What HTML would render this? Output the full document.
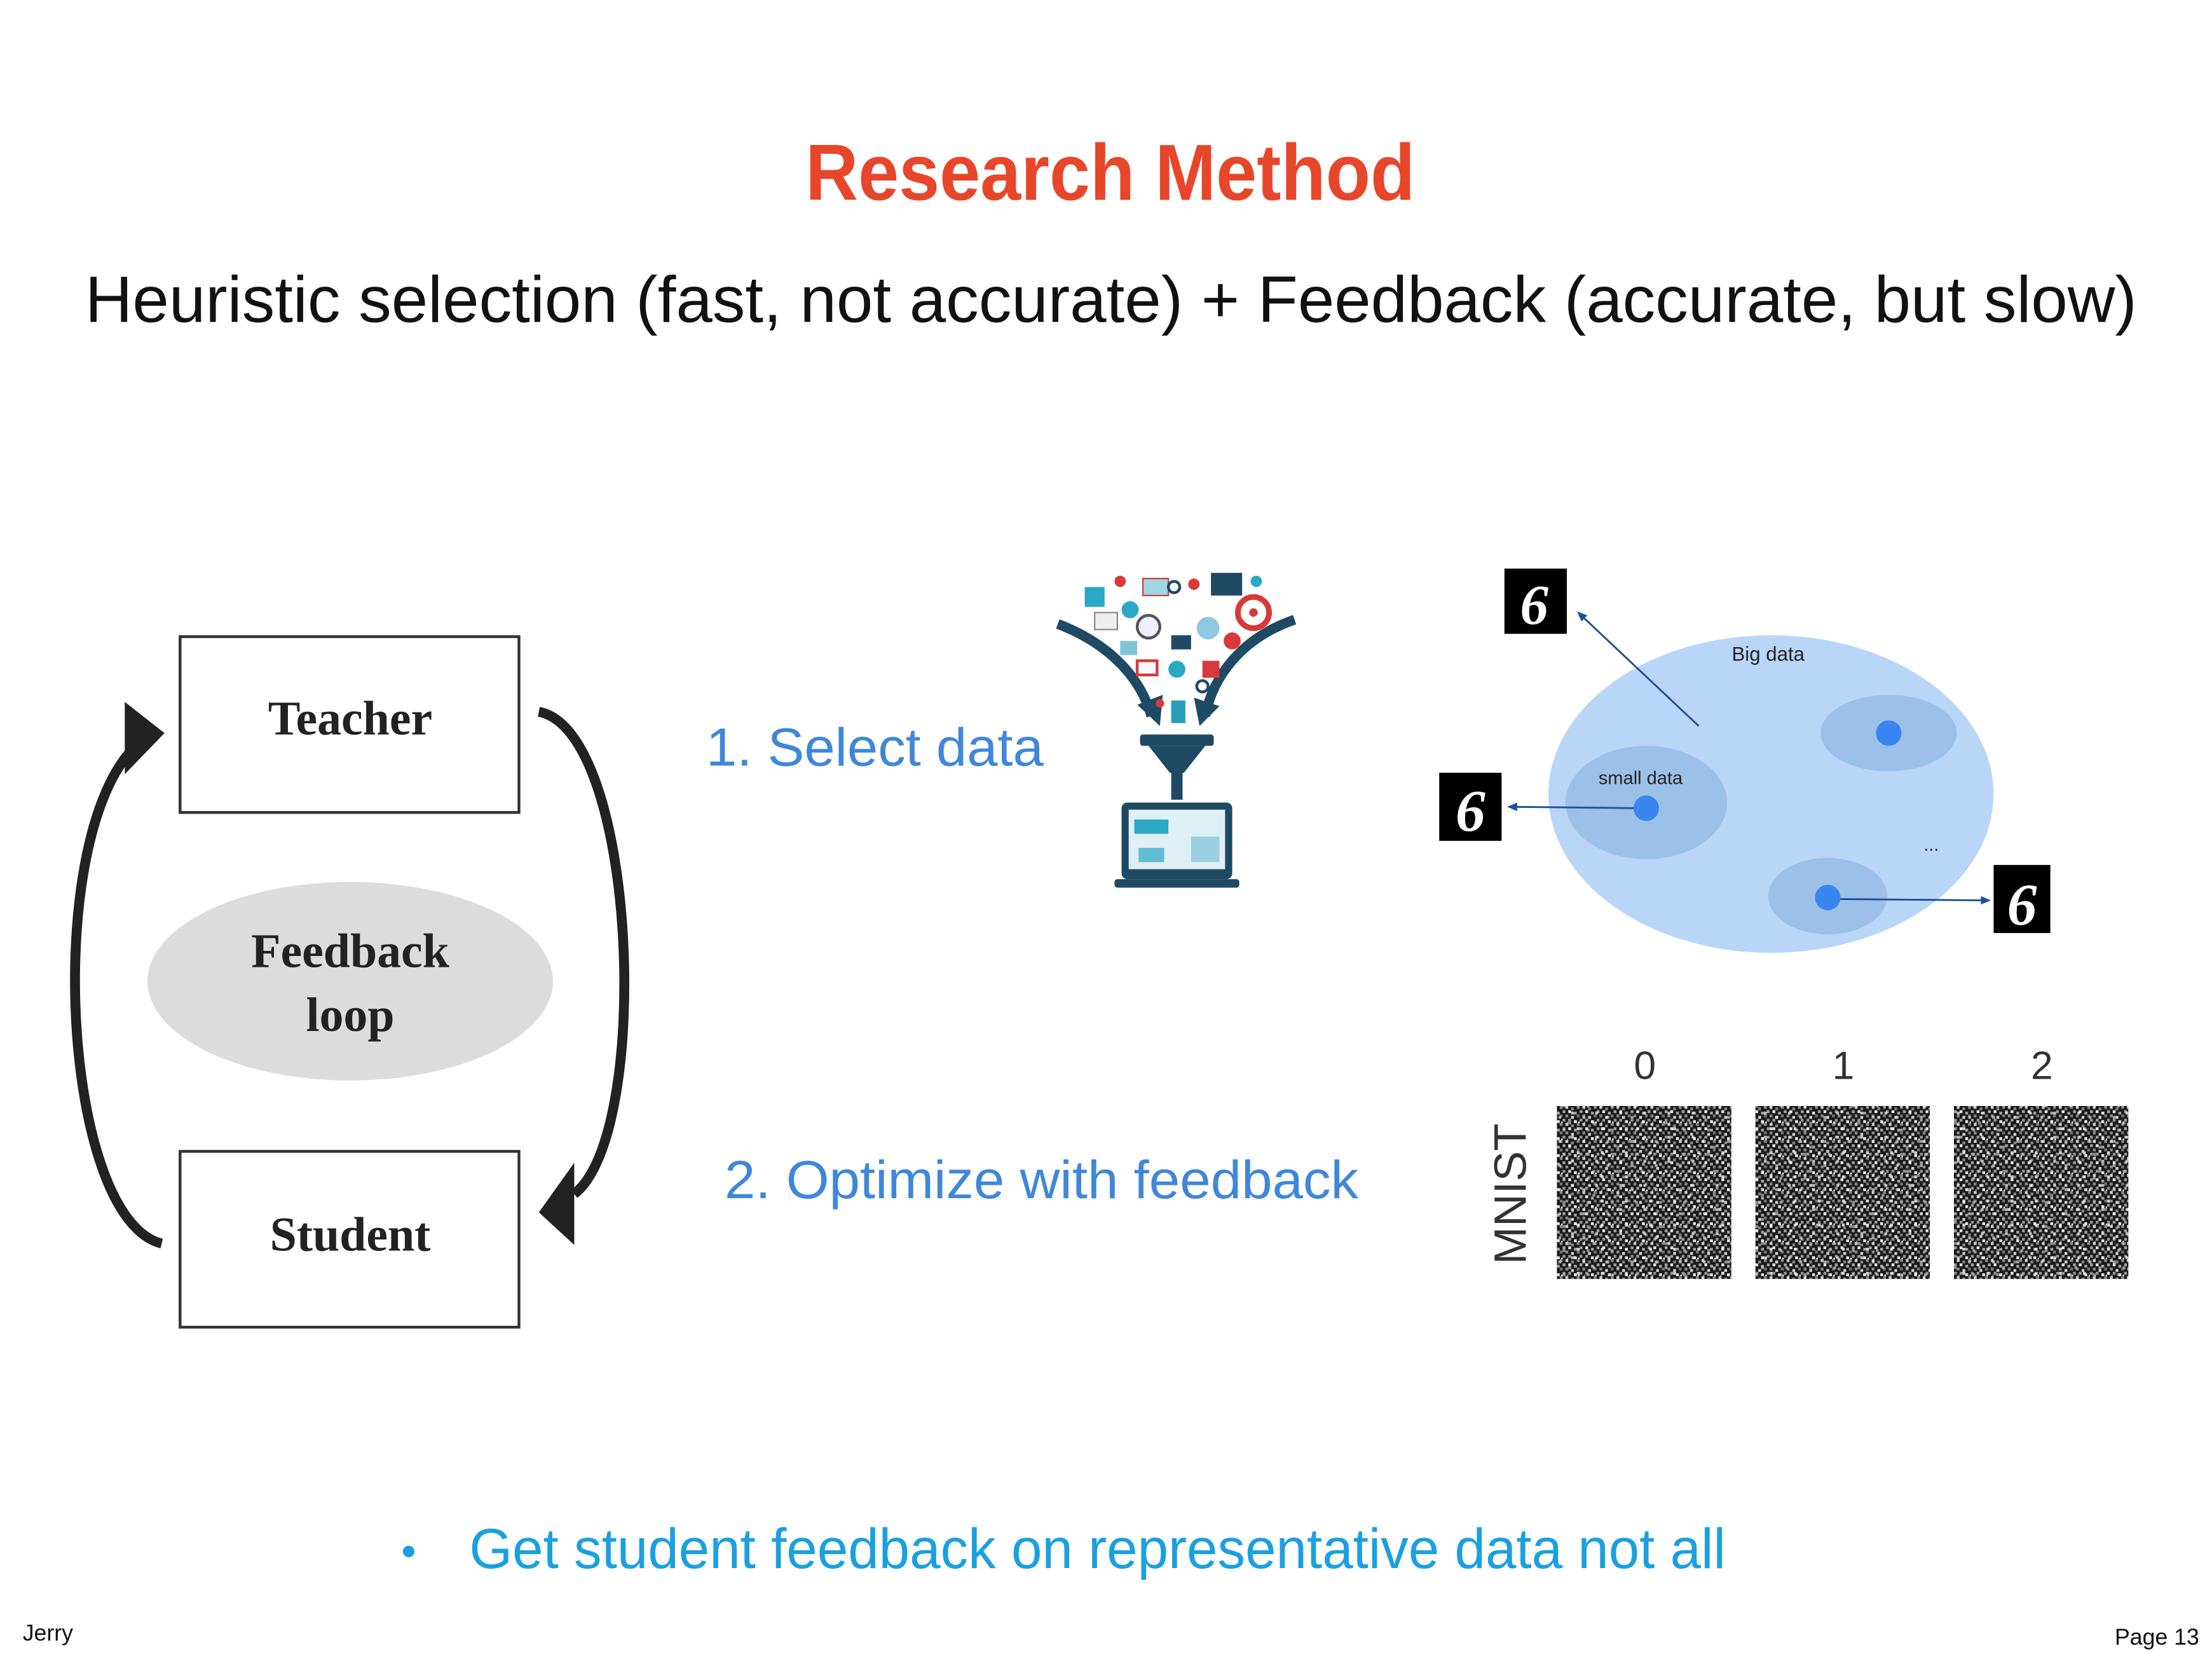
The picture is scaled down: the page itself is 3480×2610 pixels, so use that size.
<!DOCTYPE html>
<html><head><meta charset="utf-8"><style>html,body{margin:0;padding:0;background:#fff}svg{display:block}</style></head>
<body>
<svg width="3480" height="2610" viewBox="0 0 1560 1170" xmlns="http://www.w3.org/2000/svg">
<defs>
<pattern id="np" width="12" height="12" patternUnits="userSpaceOnUse">
<rect width="12" height="12" fill="#1a1a1a"/>
<rect x="0" y="0" width="2" height="2" fill="#fff" opacity="0.8"/>
<rect x="4" y="1" width="2" height="2" fill="#ccc" opacity="0.6"/>
<rect x="8" y="0" width="2" height="2" fill="#fff" opacity="0.5"/>
<rect x="2" y="3" width="2" height="2" fill="#fff" opacity="0.9"/>
<rect x="6" y="4" width="2" height="2" fill="#ddd" opacity="0.7"/>
<rect x="10" y="3" width="2" height="2" fill="#fff" opacity="0.6"/>
<rect x="0" y="6" width="2" height="2" fill="#bbb" opacity="0.7"/>
<rect x="4" y="7" width="2" height="2" fill="#fff" opacity="0.8"/>
<rect x="8" y="6" width="2" height="2" fill="#fff" opacity="0.4"/>
<rect x="2" y="9" width="2" height="2" fill="#eee" opacity="0.6"/>
<rect x="6" y="10" width="2" height="2" fill="#fff" opacity="0.9"/>
<rect x="10" y="9" width="2" height="2" fill="#ccc" opacity="0.7"/>
<rect x="9" y="11" width="1" height="1" fill="#fff"/>
<rect x="1" y="11" width="1" height="1" fill="#888"/>
</pattern>
<pattern id="np2" width="17" height="17" patternUnits="userSpaceOnUse">
<rect x="3" y="2" width="2" height="2" fill="#fff" opacity="0.7"/>
<rect x="11" y="5" width="2" height="2" fill="#fff" opacity="0.6"/>
<rect x="7" y="13" width="2" height="2" fill="#fff" opacity="0.8"/>
<rect x="14" y="14" width="2" height="2" fill="#ddd" opacity="0.6"/>
<rect x="1" y="9" width="2" height="2" fill="#fff" opacity="0.5"/>
</pattern>
<marker id="ah" markerWidth="8" markerHeight="8" refX="6" refY="4" orient="auto" markerUnits="userSpaceOnUse"><path d="M0,1 L7,4 L0,7 Z" fill="#1f4e9a"/></marker>
</defs>
<rect width="1560" height="1170" fill="#fff"/>
<text x="783" y="141" text-anchor="middle" font-family="Liberation Sans, sans-serif" font-weight="bold" font-size="56" fill="#e8462a" textLength="430" lengthAdjust="spacingAndGlyphs">Research Method</text>
<text x="60" y="227" font-family="Liberation Sans, sans-serif" font-size="46" fill="#111" textLength="1447" lengthAdjust="spacingAndGlyphs">Heuristic selection (fast, not accurate) + Feedback (accurate, but slow)</text>

<rect x="127" y="449" width="239" height="124" fill="#fff" stroke="#333" stroke-width="2"/>
<rect x="127" y="812" width="239" height="124" fill="#fff" stroke="#333" stroke-width="2"/>
<ellipse cx="247" cy="692" rx="143" ry="70" fill="#dcdcdc"/>
<g font-family="Liberation Serif, serif" font-weight="bold" font-size="34" fill="#222" text-anchor="middle">
<text x="247" y="518">Teacher</text>
<text x="247" y="882">Student</text>
<text x="247" y="682">Feedback</text>
<text x="247" y="727">loop</text>
</g>
<path d="M114,877 C45,860 30,600 92,530" fill="none" stroke="#222" stroke-width="7"/>
<path d="M88,495 L116,517 L88,546 Z" fill="#222"/>
<path d="M380,502 C450,515 460,800 405,842" fill="none" stroke="#222" stroke-width="7"/>
<path d="M405,820 L380,855 L405,878 Z" fill="#222"/>

<text x="498" y="540" font-family="Liberation Sans, sans-serif" font-size="38" fill="#3f87d9" textLength="238" lengthAdjust="spacingAndGlyphs">1. Select data</text>
<text x="511" y="845" font-family="Liberation Sans, sans-serif" font-size="38" fill="#3f87d9" textLength="447" lengthAdjust="spacingAndGlyphs">2. Optimize with feedback</text>

<g>
<path d="M746,440 C785,455 805,480 812,505" fill="none" stroke="#1f4a63" stroke-width="7"/>
<path d="M802,497 L818,512 L820,490 Z" fill="#1f4a63"/>
<path d="M913,437 C875,450 855,478 850,505" fill="none" stroke="#1f4a63" stroke-width="7"/>
<path d="M842,492 L846,512 L860,498 Z" fill="#1f4a63"/>
<rect x="765" y="414" width="14" height="14" fill="#2aa8c4"/>
<circle cx="790" cy="410" r="4" fill="#d83a3a"/>
<circle cx="797" cy="430" r="6" fill="#2aa8c4"/>
<rect x="806" y="408" width="18" height="12" fill="#9ed6e6" stroke="#d83a3a"/>
<circle cx="828" cy="414" r="4" fill="none" stroke="#1f4a63" stroke-width="2"/>
<circle cx="842" cy="412" r="4" fill="#d83a3a"/>
<rect x="854" y="404" width="22" height="16" fill="#1f4a63"/>
<circle cx="886" cy="410" r="4" fill="#2aa8c4"/>
<circle cx="884" cy="432" r="11" fill="none" stroke="#d83a3a" stroke-width="4"/>
<circle cx="884" cy="432" r="3" fill="#d83a3a"/>
<rect x="772" y="432" width="16" height="12" fill="#eee" stroke="#888"/>
<circle cx="810" cy="442" r="8" fill="#eef" stroke="#555" stroke-width="2"/>
<rect x="826" y="448" width="14" height="10" fill="#1f4a63"/>
<circle cx="852" cy="443" r="8" fill="#8fc9e0"/>
<circle cx="869" cy="452" r="6" fill="#d83a3a"/>
<rect x="790" y="452" width="12" height="10" fill="#7fc4db"/>
<rect x="802" y="466" width="14" height="10" fill="none" stroke="#d83a3a" stroke-width="2"/>
<circle cx="830" cy="472" r="6" fill="#2aa8c4"/>
<rect x="848" y="466" width="12" height="12" fill="#d83a3a"/>
<circle cx="848" cy="484" r="4" fill="none" stroke="#1f4a63" stroke-width="2"/>
<rect x="826" y="494" width="10" height="16" fill="#2a9cbc"/>
<circle cx="818" cy="496" r="3" fill="#d83a3a"/>
<rect x="804" y="518" width="52" height="8" rx="2" fill="#1f4a63"/>
<path d="M810,526 L850,526 L835,545 L825,545 Z" fill="#1f4a63"/>
<rect x="826" y="544" width="8" height="20" fill="#1f4a63"/>
<rect x="791" y="566" width="78" height="54" rx="4" fill="#1f4a63"/>
<rect x="796" y="571" width="68" height="42" fill="#dfeff6"/>
<rect x="800" y="578" width="24" height="10" fill="#2aa8c4"/>
<rect x="803" y="598" width="18" height="10" fill="#2aa8c4" opacity="0.7"/>
<rect x="840" y="590" width="20" height="18" fill="#9ccfe0"/>
<rect x="786" y="620" width="88" height="6" rx="2" fill="#1f4a63"/>
</g>

<ellipse cx="1249" cy="560" rx="157" ry="112" fill="#b9d6f8"/>
<ellipse cx="1161" cy="566" rx="57" ry="40" fill="#9cc1e8"/>
<ellipse cx="1332" cy="517" rx="48" ry="27" fill="#9cc1e8"/>
<ellipse cx="1289" cy="632" rx="42" ry="27" fill="#9cc1e8"/>
<g font-family="Liberation Sans, sans-serif" fill="#222" text-anchor="middle">
<text x="1247" y="466" font-size="14">Big data</text>
<text x="1157" y="553" font-size="13">small data</text>
<text x="1362" y="600" font-size="13">...</text>
</g>
<g stroke="#1f4e9a" stroke-width="1.3" fill="none">
<line x1="1198" y1="512" x2="1113" y2="432" marker-end="url(#ah)"/>
<line x1="1160" y1="570" x2="1064" y2="569" marker-end="url(#ah)"/>
<line x1="1290" y1="634" x2="1403" y2="635" marker-end="url(#ah)"/>
</g>
<circle cx="1161" cy="570" r="9" fill="#3a86f0"/>
<circle cx="1332" cy="517" r="9" fill="#3a86f0"/>
<circle cx="1289" cy="633" r="9" fill="#3a86f0"/>
<g font-family="Liberation Serif, serif" font-style="italic" font-weight="bold" fill="#fff" text-anchor="middle">
<rect x="1061" y="401" width="44" height="46" fill="#000"/><text x="1082" y="440" font-size="40">6</text>
<rect x="1015" y="545" width="44" height="48" fill="#000"/><text x="1037" y="586" font-size="42">6</text>
<rect x="1406" y="610" width="40" height="48" fill="#000"/><text x="1426" y="652" font-size="42">6</text>
</g>

<g font-family="Liberation Sans, sans-serif" fill="#333" text-anchor="middle" font-size="28">
<text x="1160" y="761">0</text><text x="1300" y="761">1</text><text x="1440" y="761">2</text>
<text transform="translate(1076,842) rotate(-90)" font-size="32">MNIST</text>
</g>
<rect x="1098" y="780" width="123" height="122" fill="url(#np)"/>
<rect x="1238" y="780" width="123" height="122" fill="url(#np)"/>
<rect x="1378" y="780" width="123" height="122" fill="url(#np)"/>
<rect x="1098" y="780" width="123" height="122" fill="url(#np2)"/>
<rect x="1238" y="780" width="123" height="122" fill="url(#np2)"/>
<rect x="1378" y="780" width="123" height="122" fill="url(#np2)"/>

<text x="283" y="1104" font-family="Liberation Sans, sans-serif" font-size="30" fill="#1aa0e0">•</text>
<text x="331" y="1106" font-family="Liberation Sans, sans-serif" font-size="40" fill="#1aa0e0" textLength="886" lengthAdjust="spacingAndGlyphs">Get student feedback on representative data not all</text>
<text x="16" y="1157" font-family="Liberation Sans, sans-serif" font-size="16" fill="#111">Jerry</text>
<text x="1551" y="1160" text-anchor="end" font-family="Liberation Sans, sans-serif" font-size="16" fill="#111">Page 13</text>
</svg>
</body></html>
